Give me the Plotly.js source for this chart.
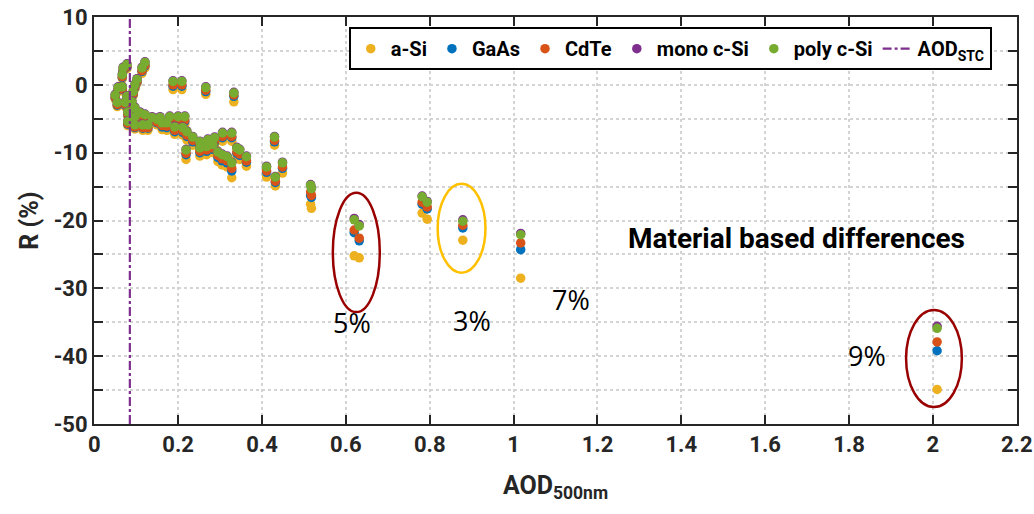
<!DOCTYPE html>
<html><head><meta charset="utf-8">
<script src="https://cdn.plot.ly/plotly-3.0.1.min.js"></script>
<style>html,body{margin:0;padding:0;background:#fff}#chart{width:1034px;height:514px}</style>
</head><body><div id="chart"></div>
<script>
const aod = [0.050,0.055,0.057,0.067,0.067,0.069,0.074,0.078,0.078,0.080,0.080,0.090,0.093,0.097,0.097,0.097,0.097,0.102,0.109,0.114,0.121,0.121,0.116,0.128,0.138,0.150,0.162,0.157,0.173,0.180,0.188,0.192,0.200,0.209,0.211,0.216,0.219,0.221,0.235,0.252,0.252,0.266,0.268,0.271,0.283,0.287,0.295,0.306,0.305,0.317,0.328,0.328,0.333,0.340,0.347,0.363,0.411,0.430,0.432,0.449,0.516,0.518,0.620,0.632,0.782,0.794,0.879,1.017,2.010];
const polySi = [-1.5,-2.6,-0.4,-0.3,1.5,2.5,-2.6,3.0,-1.7,-4.0,-5.4,-2.5,-1.0,0.0,-3.4,-4.7,-5.9,0.8,-4.1,2.5,3.3,-4.4,-5.9,-5.9,-4.8,-5.1,-5.6,-4.8,-5.6,-4.7,0.5,-6.2,-4.7,0.5,-6.3,-4.7,-9.6,-6.9,-7.7,-8.4,-9.3,-0.4,-9.1,-8.1,-8.8,-7.8,-9.9,-7.1,-10.3,-10.6,-7.1,-11.5,-1.2,-9.3,-9.6,-10.6,-12.1,-7.7,-13.6,-11.5,-14.8,-15.3,-19.9,-20.8,-16.5,-17.3,-20.1,-22.1,-35.9];
const monoSi = [-1.4,-2.5,-0.3,-0.2,1.6,2.6,-2.5,3.1,-1.6,-3.9,-5.3,-2.4,-0.9,0.1,-3.3,-4.6,-5.8,0.9,-4.0,2.6,3.4,-4.3,-5.8,-5.8,-4.7,-5.0,-5.5,-4.7,-5.5,-4.6,0.6,-6.1,-4.6,0.6,-6.2,-4.6,-9.5,-6.8,-7.6,-8.3,-9.2,-0.3,-9.0,-8.0,-8.7,-7.7,-9.8,-7.0,-10.2,-10.5,-7.0,-11.4,-1.1,-9.2,-9.5,-10.5,-12.0,-7.6,-13.5,-11.4,-14.7,-15.2,-19.7,-20.6,-16.4,-17.2,-19.9,-21.9,-35.6];
const cdte = [-1.8,-2.9,-0.7,-0.6,1.2,2.2,-2.9,2.7,-2.0,-4.3,-5.7,-2.8,-1.3,-0.3,-3.7,-5.0,-6.2,0.5,-4.4,2.1,2.9,-4.8,-6.3,-6.3,-5.2,-5.5,-6.0,-5.2,-6.1,-5.2,0.0,-6.7,-5.2,0.0,-6.8,-5.2,-10.1,-7.4,-8.2,-8.9,-9.8,-0.8,-9.6,-8.6,-9.3,-8.3,-10.4,-7.6,-10.9,-11.2,-7.6,-12.3,-1.5,-9.9,-10.2,-11.2,-12.7,-8.2,-14.2,-12.1,-15.8,-16.3,-21.4,-22.6,-17.3,-18.0,-20.7,-23.3,-37.9];
const gaas = [-1.9,-3.0,-0.8,-0.7,1.1,2.1,-3.0,2.6,-2.1,-4.4,-5.8,-2.9,-1.4,-0.4,-3.8,-5.1,-6.3,0.4,-4.5,2.0,2.8,-4.9,-6.4,-6.4,-5.3,-5.6,-6.2,-5.4,-6.3,-5.4,-0.2,-6.9,-5.4,-0.2,-7.0,-5.4,-10.3,-7.6,-8.4,-9.1,-10.0,-1.0,-9.8,-8.8,-9.5,-8.5,-10.7,-7.8,-11.2,-11.5,-7.8,-12.7,-1.7,-10.1,-10.4,-11.4,-12.9,-8.4,-14.4,-12.3,-16.3,-16.6,-21.8,-23.0,-17.6,-18.3,-21.1,-24.3,-39.2];
const aSi = [-2.1,-3.2,-1.0,-0.9,0.9,1.9,-3.2,2.4,-2.3,-4.6,-6.0,-3.1,-1.6,-0.6,-4.0,-5.3,-6.5,0.2,-4.8,1.7,2.5,-5.2,-6.7,-6.7,-5.6,-5.9,-6.6,-5.8,-6.7,-5.8,-0.7,-7.3,-5.8,-0.7,-7.4,-5.8,-11.0,-8.1,-8.9,-9.6,-10.5,-1.4,-10.3,-9.3,-10.0,-9.0,-11.3,-8.3,-11.8,-12.1,-8.3,-13.7,-2.5,-10.7,-11.0,-12.0,-13.6,-8.9,-14.9,-13.0,-17.6,-18.2,-25.2,-25.5,-18.9,-19.8,-22.9,-28.5,-44.9];
const aodSTC = 0.085;
const seriesNames = ['a-Si','GaAs','CdTe','mono c-Si','poly c-Si'];
const seriesColors = ['#EDB120','#0072BD','#D95319','#7E2F8E','#77AC30'];
const seriesData = [aSi, gaas, cdte, monoSi, polySi];
const yTicks = [-50,-40,-30,-20,-10,0,10];
const yMinor = [-45,-35,-25,-15,-5,5];
const xTicks = [0,0.2,0.4,0.6,0.8,1,1.2,1.4,1.6,1.8,2,2.2];

const traces = seriesData.map((d,i)=>({
  x: aod, y: d, type:'scatter', mode:'markers', name: seriesNames[i],
  marker:{color:seriesColors[i], size:9.5, line:{width:0}}
}));
traces.push({x:[aodSTC,aodSTC], y:[-50,10], type:'scatter', mode:'lines', name:'AOD<sub>STC</sub>',
  line:{color:'#7E2F8E', width:2.2, dash:'dashdot'}});

const fam = 'Roboto, Arial, sans-serif';
const axisCommon = {showline:true, linecolor:'#262626', linewidth:2, mirror:'ticks', ticks:'inside', ticklen:9, tickwidth:2, tickcolor:'#262626',
  showgrid:true, gridcolor:'#d4d4d4', gridwidth:2, griddash:'dot', zeroline:false, ticklabeloverflow:'allow',
  tickfont:{family:fam, size:22, color:'#262626', weight:700}};

const layout = {
  width:1034, height:514, margin:{l:94, r:17, t:17, b:90},
  paper_bgcolor:'#fff', plot_bgcolor:'#fff', showlegend:true,
  xaxis: Object.assign({}, axisCommon, {range:[-0.0005,2.2005], tickvals:xTicks, ticktext:xTicks.map(String),
    title:{text:'AOD<sub>500nm</sub>', font:{family:fam, size:25, color:'#262626', weight:700}, standoff:20}}),
  yaxis: Object.assign({}, axisCommon, {range:[-50,10], tickvals:yTicks, ticktext:yTicks.map(String),
    minor:{tickvals:yMinor, ticks:'inside', ticklen:9, tickwidth:2, tickcolor:'#262626', showgrid:true, gridcolor:'#d4d4d4', gridwidth:2, griddash:'dot'},
    title:{text:'R (%)', font:{family:fam, size:25, color:'#262626', weight:700}, standoff:8}}),
  legend:{orientation:'h', x:0.276, y:0.975, xanchor:'left', yanchor:'top', bgcolor:'#fff', bordercolor:'#000', borderwidth:2,
    font:{family:fam, size:20, color:'#000', weight:700}, itemwidth:30, tracegroupgap:0},
  shapes:[
    {type:'circle', xref:'x', yref:'y', x0:0.569, x1:0.681, y0:-33.5, y1:-15.9, line:{color:'#990000', width:2.5}},
    {type:'circle', xref:'x', yref:'y', x0:0.819, x1:0.933, y0:-27.7, y1:-14.6, line:{color:'#FFC000', width:2.5}},
    {type:'circle', xref:'x', yref:'y', x0:1.936, x1:2.069, y0:-47.5, y1:-33.2, line:{color:'#990000', width:2.5}}
  ],
  annotations:[
    {x:1.674, y:-22.6, xref:'x', yref:'y', text:'Material based differences', showarrow:false, font:{family:fam, size:28, color:'#000', weight:700}},
    {x:0.614, y:-35.1, xref:'x', yref:'y', text:'5%', showarrow:false, font:{family:'Open Sans, Arial, sans-serif', size:27, color:'#000'}},
    {x:0.900, y:-34.7, xref:'x', yref:'y', text:'3%', showarrow:false, font:{family:'Open Sans, Arial, sans-serif', size:27, color:'#000'}},
    {x:1.136, y:-31.7, xref:'x', yref:'y', text:'7%', showarrow:false, font:{family:'Open Sans, Arial, sans-serif', size:27, color:'#000'}},
    {x:1.843, y:-39.9, xref:'x', yref:'y', text:'9%', showarrow:false, font:{family:'Open Sans, Arial, sans-serif', size:27, color:'#000'}}
  ]
};
Plotly.newPlot('chart', traces, layout, {displayModeBar:false, staticPlot:true});
</script></body></html>
